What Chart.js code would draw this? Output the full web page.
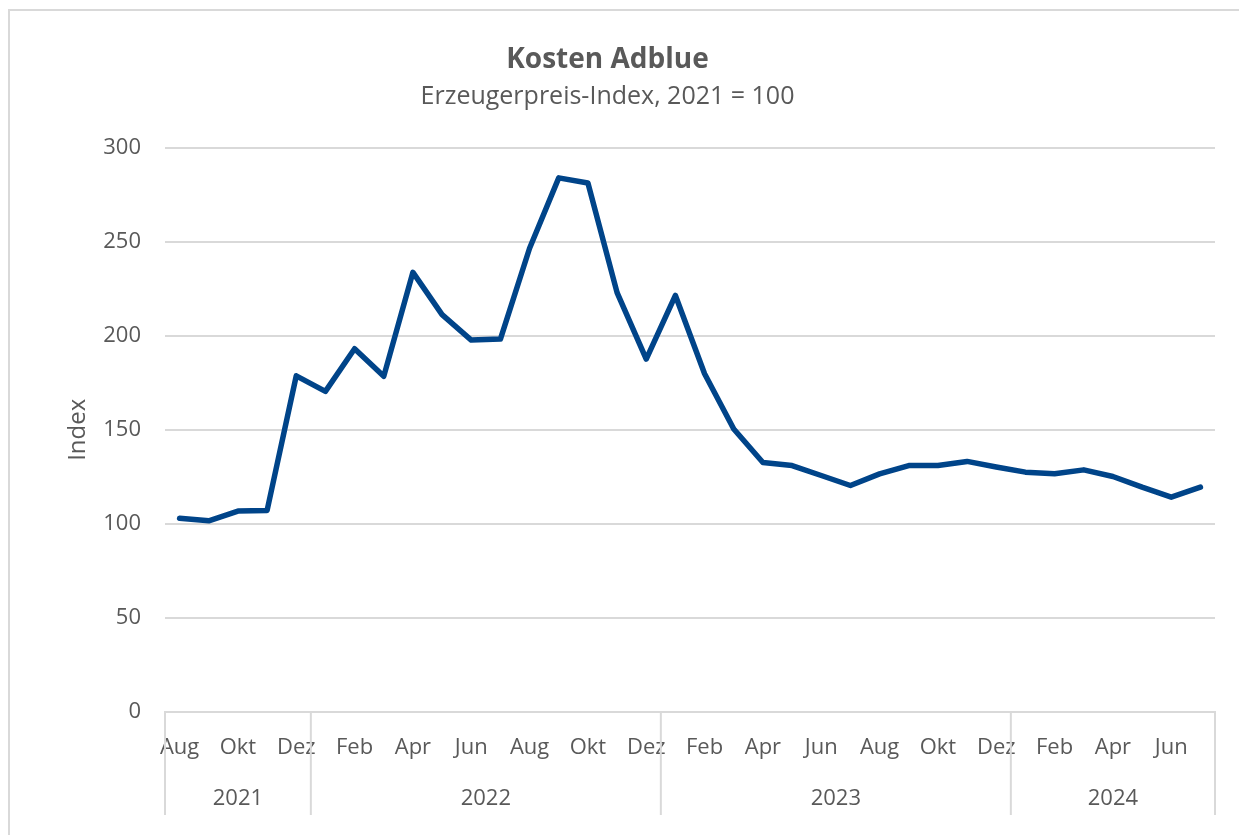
<!DOCTYPE html>
<html>
<head>
<meta charset="utf-8">
<script src="https://cdn.jsdelivr.net/npm/chart.js@4"></script>
<style>
	html,body{margin:0;padding:0;background:#fff;overflow:hidden;}
	#frame{position:absolute;left:8px;top:9px;width:1300px;height:900px;border:2px solid #d9d9d9;box-sizing:border-box;}
	#wrap{position:absolute;left:0;top:0;width:1239px;height:835px;}
</style>
</head>
<body>
<div id="frame"></div>
<div id="wrap"><canvas id="ctx"></canvas></div>
<script>
	// DATA
	// --------------------
	var months = ['Aug','Sep','Okt','Nov','Dez',
		'Jan','Feb','Mrz','Apr','Mai','Jun','Jul','Aug','Sep','Okt','Nov','Dez',
		'Jan','Feb','Mrz','Apr','Mai','Jun','Jul','Aug','Sep','Okt','Nov','Dez',
		'Jan','Feb','Mrz','Apr','Mai','Jun','Jul'];
	var years = ['2021','2022','2023','2024'];
	var yearLengths = [5,12,12,7];
	var index = [103.0,101.6,106.8,107.1,178.7,
		170.4,193.1,178.4,233.7,211.2,197.7,198.2,246.5,283.9,281.2,222.9,187.6,
		221.4,179.8,150.4,132.6,131.0,125.7,120.4,126.6,131.0,131.0,133.2,130.2,
		127.5,126.6,128.7,125.2,119.5,114.2,119.5];
	var yTicks = [0,50,100,150,200,250,300];

	var grey = '#595959';
	var lineGrey = '#d9d9d9';
	var font = "'Open Sans', 'Noto Sans', sans-serif";

	// year row below the month labels
	var yearRow = {
		id:'yearRow',
		afterDraw:function(chart){
			var ctx = chart.ctx;
			var x = chart.scales.x;
			var area = chart.chartArea;
			var half = (x.getPixelForValue(1) - x.getPixelForValue(0)) / 2;
			var start = 0;
			ctx.save();
			ctx.strokeStyle = lineGrey;
			ctx.lineWidth = 2;
			ctx.fillStyle = grey;
			ctx.font = '22px ' + font;
			ctx.textAlign = 'center';
			ctx.textBaseline = 'middle';
			for(var i = 0 ; i <= years.length ; i++){
				var edge = i < years.length ? x.getPixelForValue(start) - half : x.getPixelForValue(start - 1) + half;
				ctx.beginPath();
				ctx.moveTo(edge, area.bottom);
				ctx.lineTo(edge, area.bottom + 103);
				ctx.stroke();
				if(i < years.length){
					var left = x.getPixelForValue(start) - half;
					var right = x.getPixelForValue(start + yearLengths[i] - 1) + half;
					ctx.fillText(years[i], (left + right) / 2, area.bottom + 87);
					start += yearLengths[i];
				}
			}
			ctx.restore();
		}
	};

	var chart = new Chart(document.getElementById('ctx'),{
		type:'line',
		data:{
			labels:months,
			datasets:[{
				label:'Index',
				data:index,
				borderColor:'#004489',
				borderWidth:5.5,
				pointRadius:0,
				tension:0,
				borderJoinStyle:'round',
				borderCapStyle:'round'
			}]
		},
		options:{
			responsive:true,
			maintainAspectRatio:false,
			animation:false,
			layout:{padding:{left:0,right:24,top:0,bottom:0}},
			plugins:{
				legend:{display:false},
				tooltip:{enabled:false},
				title:{
					display:true,
					text:'Kosten Adblue',
					color:grey,
					font:{family:font,size:28,weight:'bold'},
					padding:{top:43,bottom:0}
				},
				subtitle:{
					display:true,
					text:'Erzeugerpreis-Index, 2021 = 100',
					color:grey,
					font:{family:font,size:25},
					padding:{top:5,bottom:36}
				}
			},
			scales:{
				x:{
					type:'category',
					offset:true,
					grid:{display:false,drawTicks:false},
					border:{display:true,color:lineGrey,width:2},
					ticks:{
						autoSkip:false,
						maxRotation:0,
						color:grey,
						padding:23,
						font:{family:font,size:22},
						callback:function(v,i){ return i % 2 === 0 ? months[i] : ''; }
					},
					afterFit:function(s){ s.height = 123; }
				},
				y:{
					min:0,
					max:300,
					afterBuildTicks:function(s){ s.ticks = yTicks.map(function(v){ return {value:v}; }); },
					grid:{color:lineGrey,lineWidth:2,drawTicks:false},
					border:{display:false},
					ticks:{color:grey,padding:24,font:{family:font,size:22}},
					title:{display:true,text:'Index',color:grey,font:{family:font,size:24},padding:{top:64,bottom:0}},
					afterFit:function(s){ s.width = 165; }
				}
			}
		},
		plugins:[yearRow]
	});
</script>
</body>
</html>
